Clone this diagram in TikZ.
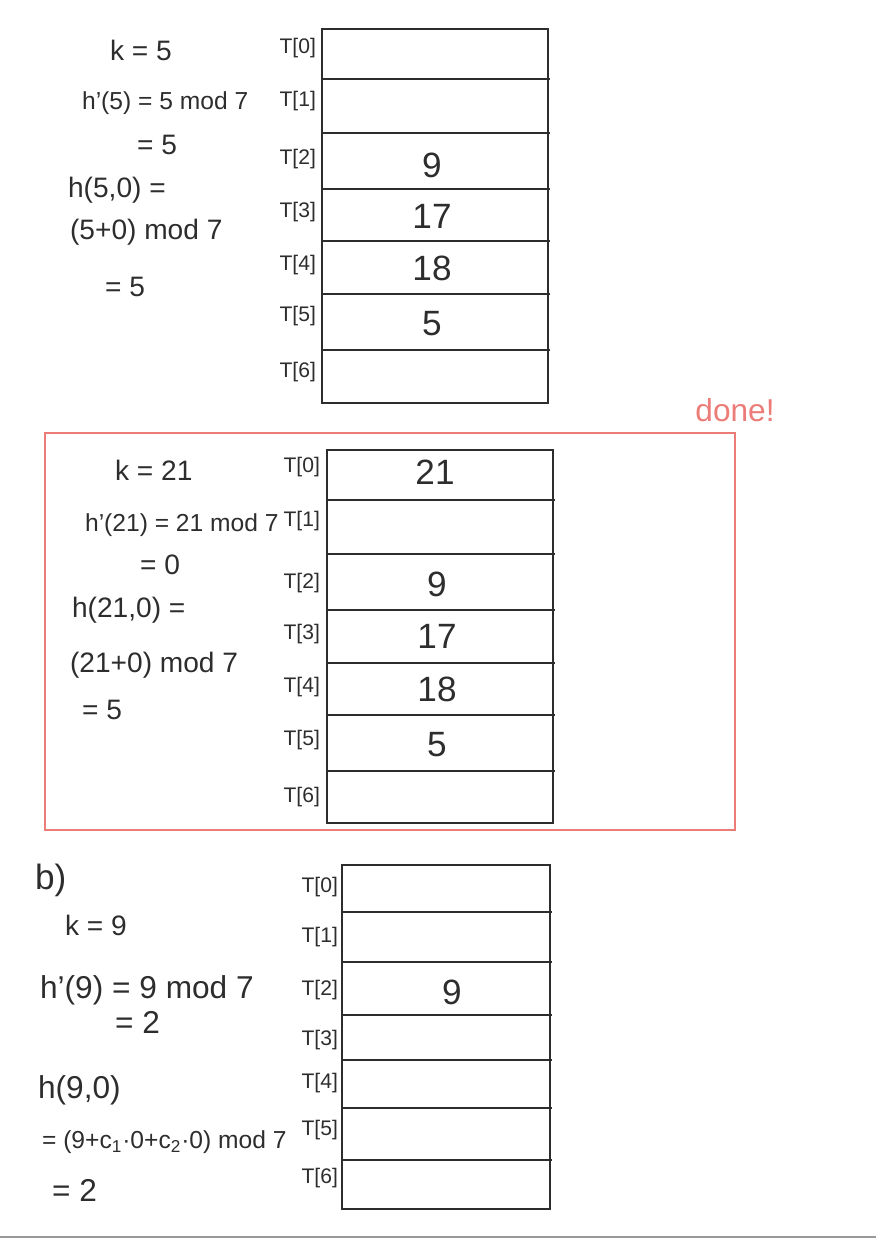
\documentclass[tikz,border=0pt]{standalone}
\usepackage{fontspec}
\setmainfont{Liberation Sans}
\usetikzlibrary{positioning}
\definecolor{donered}{RGB}{236,124,120}
\definecolor{inkgray}{RGB}{45,45,45}

\begin{document}
\begin{tikzpicture}[x=0.02cm, y=-0.02cm,
                tbl/.style={draw=inkgray, line width=1.3pt},
                rowline/.style={draw=inkgray, line width=1.3pt},
                lab/.style={font=\fontsize{12}{14}\selectfont, text=inkgray, anchor=east, inner sep=1pt},
                val/.style={font=\fontsize{20}{22}\selectfont, text=inkgray},
                work/.style={font=\fontsize{16}{18}\selectfont, text=inkgray, anchor=west, inner sep=1pt},
                small/.style={font=\fontsize{14}{16}\selectfont},
                donebox/.style={draw=donered, line width=1.3pt},
            ]

            \useasboundingbox (0,0) rectangle (876,1239);

            % first table
            \draw[tbl] (322,29) rectangle (548,403);
            \foreach \y in {79,133,189,241,294,350}
                \draw[rowline] (322,\y) -- (550,\y);
            \foreach \i/\y in {0/48,1/101,2/159,3/212,4/265,5/316,6/372}
                \node[lab] (ta\i) at (318,\y) {T[\i]};
            \node[val] (taval2) at (432,165) {9};
            \node[val] (taval3) at (432,216) {17};
            \node[val] (taval4) at (432,268) {18};
            \node[val] (taval5) at (432,324) {5};

            % first working
            \node[work] (wak) at (108,50) {k = 5};
            \node[work, small] (wah) at (80,103) {h'(5) = 5 mod 7};
            \node[work] (wahr) at (135,145) {= 5};
            \node[work] (wap) at (66,190) {h(5,0) =};
            \node[work] (wam) at (68,232) {(5+0) mod 7};
            \node[work] (war) at (103,287) {= 5};

            % second table, boxed
            \draw[donebox] (45,433) rectangle (735,830);
            \node[font=\fontsize{18}{20}\selectfont, text=donered] (done) at (735,410) {done!};
            \draw[tbl] (327,450) rectangle (553,823);
            \foreach \y in {500,554,610,663,715,771}
                \draw[rowline] (327,\y) -- (555,\y);
            \foreach \i/\y in {0/467,1/521,2/583,3/634,4/687,5/740,6/797}
                \node[lab] (tb\i) at (322,\y) {T[\i]};
            \node[val] (tbval0) at (435,472) {21};
            \node[val] (tbval2) at (437,584) {9};
            \node[val] (tbval3) at (437,636) {17};
            \node[val] (tbval4) at (437,689) {18};
            \node[val] (tbval5) at (437,745) {5};

            % second working
            \node[work] (wbk) at (113,470) {k = 21};
            \node[work, small] (wbh) at (83,525) {h'(21) = 21 mod 7};
            \node[work] (wbhr) at (138,565) {= 0};
            \node[work] (wbp) at (70,610) {h(21,0) =};
            \node[work] (wbm) at (68,665) {(21+0) mod 7};
            \node[work] (wbr) at (80,710) {= 5};

            % third table
            \draw[tbl] (342,865) rectangle (550,1209);
            \foreach \y in {912,962,1015,1060,1108,1160}
                \draw[rowline] (342,\y) -- (552,\y);
            \foreach \i/\y in {0/887,1/937,2/990,3/1040,4/1083,5/1130,6/1178}
                \node[lab] (tc\i) at (340,\y) {T[\i]};
            \node[val] (tcval2) at (452,992) {9};

            % part b working
            \node[work, font=\fontsize{20}{22}\selectfont] (wcb) at (33,880) {b)};
            \node[work] (wck) at (63,925) {k = 9};
            \node[work, font=\fontsize{18}{20}\selectfont] (wch) at (38,990) {h'(9) = 9 mod 7};
            \node[work, font=\fontsize{18}{20}\selectfont] (wchr) at (113,1022) {= 2};
            \node[work, font=\fontsize{18}{20}\selectfont] (wcp) at (36,1090) {h(9,0)};
            \node[work, small] (wcm) at (40,1142) {= (9+c\textsubscript{1}·0+c\textsubscript{2}·0) mod 7};
            \node[work, font=\fontsize{18}{20}\selectfont] (wcr) at (50,1190) {= 2};

            % page edge
            \draw[black!40, line width=1pt] (0,1237) -- (876,1237);
        \end{tikzpicture}
\end{document}
